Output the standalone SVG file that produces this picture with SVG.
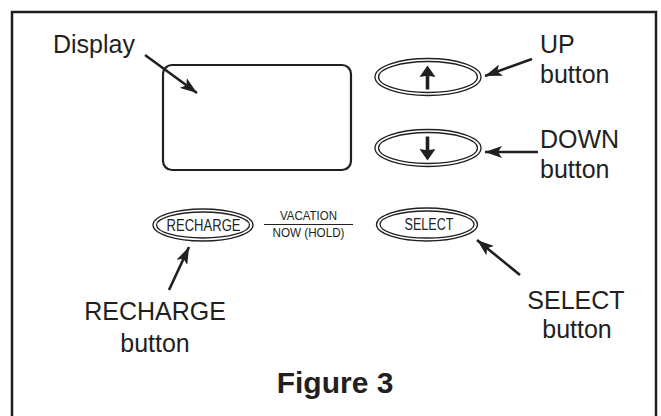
<svg xmlns="http://www.w3.org/2000/svg" width="661" height="416" viewBox="0 0 661 416">
<style>
.lbl{font-family:"Liberation Sans",Arial,sans-serif;font-size:25px;fill:#231f20}
.btn{font-family:"Liberation Sans",Arial,sans-serif;font-size:16px;fill:#231f20}
.sm{font-family:"Liberation Sans",Arial,sans-serif;font-size:12.5px;fill:#231f20}
.ol{fill:none;stroke:#231f20;stroke-width:1.3}
.con{fill:none;stroke:#231f20;stroke-width:2.6}
</style>
<defs>
<marker id="ah" markerUnits="userSpaceOnUse" markerWidth="20" markerHeight="12" refX="17" refY="6" orient="auto">
<path d="M0,0 L17,6 L0,12 L4,6 z" fill="#231f20"/>
</marker>
</defs>
<rect x="12" y="12" width="644" height="420" fill="#fff" stroke="#231f20" stroke-width="2.5"/>
<g id="display">
<rect x="163" y="65" width="188" height="105" rx="9" fill="none" stroke="#231f20" stroke-width="2.2"/>
</g>
<g id="up-button">
<ellipse cx="428" cy="77" rx="53" ry="18.5" class="ol"/>
<ellipse cx="428" cy="77" rx="49.5" ry="15.5" class="ol"/>
<path d="M427.5,65.5 L435.5,77 L429.3,76 L429.3,89.5 L425.7,89.5 L425.7,76 L419.5,77 z" fill="#231f20"/>
</g>
<g id="down-button">
<ellipse cx="428" cy="148" rx="53" ry="18.5" class="ol"/>
<ellipse cx="428" cy="148" rx="49.5" ry="15.5" class="ol"/>
<path d="M427.5,160.5 L435.5,149 L429.3,150 L429.3,136.5 L425.7,136.5 L425.7,150 L419.5,149 z" fill="#231f20"/>
</g>
<g id="recharge-button">
<ellipse cx="203" cy="225" rx="50" ry="16" class="ol"/>
<ellipse cx="203" cy="225" rx="46.5" ry="13" class="ol"/>
<text class="btn" x="203.5" y="230.8" text-anchor="middle" textLength="74" lengthAdjust="spacingAndGlyphs">RECHARGE</text>
</g>
<g id="mode-label">
<text class="sm" x="308.5" y="220" text-anchor="middle" textLength="57" lengthAdjust="spacingAndGlyphs">VACATION</text>
<line x1="264" y1="224.5" x2="353" y2="224.5" stroke="#231f20" stroke-width="1.1"/>
<text class="sm" x="308.5" y="237" text-anchor="middle" textLength="72" lengthAdjust="spacingAndGlyphs">NOW  (HOLD)</text>
</g>
<g id="select-button">
<ellipse cx="427" cy="224.5" rx="50.5" ry="16.5" class="ol"/>
<ellipse cx="427" cy="224.5" rx="47" ry="13.5" class="ol"/>
<text class="btn" x="429" y="230.3" text-anchor="middle" textLength="49" lengthAdjust="spacingAndGlyphs">SELECT</text>
</g>
<g id="labels">
<text class="lbl" x="53" y="53">Display</text>
<text class="lbl" x="540" y="53">UP</text>
<text class="lbl" x="540" y="83">button</text>
<text class="lbl" x="540" y="148">DOWN</text>
<text class="lbl" x="540" y="178">button</text>
<text class="lbl" x="155" y="320" text-anchor="middle">RECHARGE</text>
<text class="lbl" x="155" y="352" text-anchor="middle">button</text>
<text class="lbl" x="576" y="309" text-anchor="middle">SELECT</text>
<text class="lbl" x="577" y="338" text-anchor="middle">button</text>
<text x="335" y="393" text-anchor="middle" style="font-family:'Liberation Sans',Arial,sans-serif;font-size:30px;font-weight:bold;fill:#231f20">Figure 3</text>
</g>
<g id="connectors">
<line class="con" x1="145" y1="55" x2="197" y2="93" marker-end="url(#ah)"/>
<line class="con" x1="532" y1="59" x2="485" y2="76" marker-end="url(#ah)"/>
<line class="con" x1="538" y1="152" x2="485" y2="152" marker-end="url(#ah)"/>
<line class="con" x1="169" y1="290" x2="189" y2="247" marker-end="url(#ah)"/>
<line class="con" x1="520" y1="275" x2="477" y2="240" marker-end="url(#ah)"/>
</g>
</svg>
